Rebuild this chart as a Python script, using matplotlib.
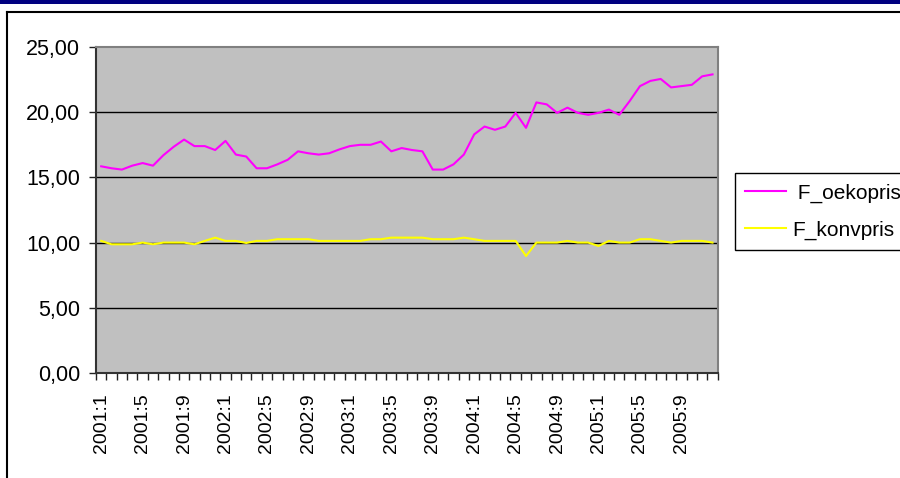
import numpy as np
import matplotlib
matplotlib.use("Agg")
import matplotlib.pyplot as plt
from matplotlib.lines import Line2D
from matplotlib.ticker import FixedLocator, FuncFormatter

plt.rcParams['font.family'] = ['Liberation Sans', 'DejaVu Sans']

# monthly periods 2001:1 .. 2005:12
years = [2001, 2002, 2003, 2004, 2005]
periods = ["%d:%d" % (y, m) for y in years for m in range(1, 13)]

oeko = [15.85, 15.7, 15.6, 15.9, 16.1, 15.9, 16.7, 17.35, 17.9, 17.4,
        17.4, 17.1, 17.8, 16.75, 16.6, 15.7, 15.7, 16.0, 16.35, 17.0,
        16.85, 16.75, 16.85, 17.15, 17.4, 17.5, 17.5, 17.75, 17.0, 17.25,
        17.1, 17.0, 15.6, 15.6, 16.0, 16.75, 18.3, 18.9, 18.65, 18.9,
        19.95, 18.8, 20.75, 20.6, 19.95, 20.35, 19.95, 19.8, 19.95, 20.2,
        19.8, 20.85, 22.0, 22.4, 22.55, 21.9, 22.0, 22.1, 22.75, 22.9]

konv = [10.13, 9.87, 9.87, 9.87, 10.0, 9.87, 10.0, 10.0, 10.0, 9.87,
        10.13, 10.38, 10.13, 10.13, 9.97, 10.13, 10.13, 10.26, 10.26, 10.26,
        10.26, 10.13, 10.13, 10.13, 10.13, 10.13, 10.26, 10.26, 10.38, 10.38,
        10.38, 10.38, 10.26, 10.26, 10.26, 10.38, 10.26, 10.13, 10.13, 10.13,
        10.13, 8.97, 10.0, 10.0, 10.0, 10.13, 10.0, 10.0, 9.74, 10.13,
        10.0, 10.0, 10.26, 10.26, 10.13, 10.0, 10.13, 10.13, 10.13, 10.0]

yticks = [0, 5, 10, 15, 20, 25]

fig = plt.figure(figsize=(9, 4.78), dpi=100)
ax = fig.add_axes([96 / 900, 1 - 373 / 478, 621.7 / 900, 326 / 478])
ax.set_facecolor('#C0C0C0')

x = np.arange(len(periods))
ax.plot(x, oeko, color='#FF00FF', lw=1.5, label=' F_oekopris')
ax.plot(x, konv, color='#FFFF00', lw=1.5, label='F_konvpris')

ax.set_xlim(-0.5, len(periods) - 0.5)
ax.set_ylim(0, 25)

ax.set_yticks(yticks)
ax.yaxis.set_major_formatter(FuncFormatter(lambda v, p: ("%.2f" % v).replace('.', ',')))
for v in yticks[1:-1]:
    ax.axhline(v, color='black', lw=1, zorder=1)

# labels every 4th month, tick marks between categories
lab_idx = list(range(0, len(periods), 4))
ax.xaxis.set_major_locator(FixedLocator(lab_idx))
ax.set_xticklabels([periods[i] for i in lab_idx], rotation=90)
ax.xaxis.set_minor_locator(FixedLocator(np.arange(-0.5, len(periods), 1)))
ax.tick_params(axis='x', which='major', length=0, pad=14.4, labelsize=14)
ax.tick_params(axis='x', which='minor', length=4.8, width=1, color='#222222', direction='out')
ax.tick_params(axis='y', length=4.8, width=1, color='#222222', pad=6.5, labelsize=15.5)

for s in ['top', 'right']:
    ax.spines[s].set_color('#808080')
    ax.spines[s].set_linewidth(1.5)
for s in ['left', 'bottom']:
    ax.spines[s].set_color('#333333')
    ax.spines[s].set_linewidth(1.5)

fig.legend(loc='upper left', bbox_to_anchor=(735 / 900, 1 - 173 / 478),
           fontsize=15, frameon=True, fancybox=False, framealpha=1,
           edgecolor='black', handlelength=1.95, handletextpad=0.3,
           borderpad=0.5, labelspacing=0.85, borderaxespad=0)

# chart area frame and top band
fig.add_artist(plt.Rectangle((0, 1 - 4 / 478), 1, 4 / 478, transform=fig.transFigure,
                             color='#000080', lw=0))
fig.add_artist(Line2D([6.5 / 900, 1], [1 - 12 / 478, 1 - 12 / 478], color='black', lw=1.5))
fig.add_artist(Line2D([6.5 / 900, 6.5 / 900], [0, 1 - 12 / 478], color='black', lw=1.5))

fig.savefig('out.png', dpi=100)
